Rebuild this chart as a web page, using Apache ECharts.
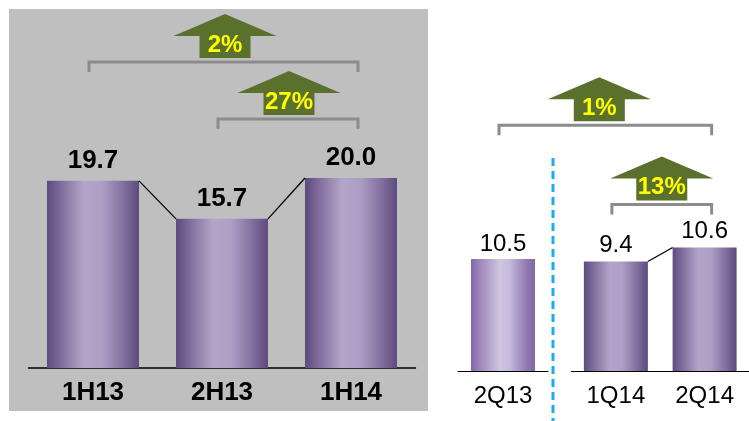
<!DOCTYPE html>
<html>
<head>
<meta charset="utf-8">
<script src="https://cdn.jsdelivr.net/npm/echarts@6/dist/echarts.min.js"></script>
<style>
html,body{margin:0;padding:0;background:#fff;}
#c{width:749px;height:421px;}
</style>
</head>
<body>
<div id="c"></div>
<script>
// ---- data ----
const halfCategories = ['1H13', '2H13', '1H14'];
const halfValues = [19.7, 15.7, 20.0];
const prevQCategories = ['2Q13'];
const prevQValues = [10.5];
const quarterCategories = ['1Q14', '2Q14'];
const quarterValues = [9.4, 10.6];
// growth annotations on the half-year chart: [from, to, bracket level (value units), label]
const halfChanges = [[0, 2, 32.2, '2%'], [1, 2, 26.2, '27%']];
// growth annotations on the quarterly chart
const quarterChangeLabels = ['1%', '13%'];
const quarterChangeLevels = [21.1, 14.3];

const FONT = 'Liberation Sans, Arial, sans-serif';
const mainGrad = new echarts.graphic.LinearGradient(0, 0, 1, 0, [
  {offset: 0, color: '#5d4a7e'}, {offset: 0.13, color: '#7b6898'},
  {offset: 0.4, color: '#b3a4c9'}, {offset: 0.6, color: '#ae9ec5'},
  {offset: 0.87, color: '#7a6797'}, {offset: 1, color: '#5d4a7e'}
]);
const lightGrad = new echarts.graphic.LinearGradient(0, 0, 1, 0, [
  {offset: 0, color: '#8167a6'}, {offset: 0.15, color: '#9f89bd'},
  {offset: 0.45, color: '#cfc6df'}, {offset: 0.6, color: '#c6badb'},
  {offset: 0.87, color: '#9178b2'}, {offset: 1, color: '#8167a6'}
]);

const chart = echarts.init(document.getElementById('c'), null, {renderer: 'canvas'});

const catAxis = (grid, data, bold, lw) => ({
  type: 'category', gridIndex: grid, data: data,
  axisTick: {show: false},
  axisLine: {show: true, lineStyle: {color: '#000', width: lw}},
  axisLabel: {
    margin: bold ? 12 : 13,
    color: '#000',
    fontFamily: FONT,
    fontSize: bold ? 26 : 24,
    fontWeight: bold ? 'bold' : 'normal'
  }
});
const valAxis = (grid, max) => ({type: 'value', gridIndex: grid, min: 0, max: max, show: false});

chart.setOption({
  animation: false,
  backgroundColor: '#fff',
  grid: [
    {left: 28.5, width: 387, top: 7, height: 361},
    {left: 458, width: 90, top: 51, height: 320},
    {left: 571.5, width: 181, top: 21.5, height: 349.5}
  ],
  xAxis: [
    catAxis(0, halfCategories, true, 1.5),
    catAxis(1, prevQCategories, false, 1.2),
    catAxis(2, quarterCategories, false, 1.2)
  ],
  yAxis: [valAxis(0, 38), valAxis(1, 30), valAxis(2, 30)],
  series: [
    {
      type: 'bar', xAxisIndex: 0, yAxisIndex: 0, data: halfValues, barWidth: 92,
      itemStyle: {color: mainGrad},
      label: {show: true, position: 'top', distance: 7, color: '#000', fontFamily: FONT,
        fontSize: 26, fontWeight: 'bold', formatter: p => p.value.toFixed(1)}
    },
    {
      type: 'bar', xAxisIndex: 1, yAxisIndex: 1, data: prevQValues, barWidth: 64,
      itemStyle: {color: lightGrad},
      label: {show: true, position: 'top', distance: 3, color: '#000', fontFamily: FONT,
        fontSize: 24, formatter: p => p.value.toFixed(1)}
    },
    {
      type: 'bar', xAxisIndex: 2, yAxisIndex: 2, data: quarterValues, barWidth: 64,
      itemStyle: {color: mainGrad},
      label: {show: true, position: 'top', distance: 4, color: '#000', fontFamily: FONT,
        fontSize: 24, formatter: p => p.value.toFixed(1)}
    }
  ]
});

// ---- annotations computed through the chart's own scales ----
const px = (g, cat, val) => chart.convertToPixel({xAxisIndex: g, yAxisIndex: g}, [cat, val]);
const graphics = [];

// grey panel behind left chart
graphics.push({type: 'rect', z: -10, silent: true, shape: {x: 9, y: 9, width: 419, height: 402}, style: {fill: '#bfbfbf'}});
// dashed divider
graphics.push({type: 'line', z: 5, shape: {x1: 553, y1: 158, x2: 553, y2: 421},
  style: {stroke: '#17b0ec', lineWidth: 3, lineDash: [8, 5]}});

function connector(g, i, vals, cats, bw) {
  const a = px(g, cats[i], vals[i]);
  const b = px(g, cats[i + 1], vals[i + 1]);
  graphics.push({type: 'line', z: 5, shape: {x1: a[0] + bw / 2, y1: a[1], x2: b[0] - bw / 2, y2: b[1]},
    style: {stroke: '#000', lineWidth: 1.3}});
}
for (let i = 0; i < halfValues.length - 1; i++) connector(0, i, halfValues, halfCategories, 92);
connector(2, 0, quarterValues, quarterCategories, 64);

function growth(x1c, x2c, by, label, shift) {
  const x1 = x1c - 4, x2 = x2c + 7, cx = (x1 + x2) / 2 + (shift || 0);
  graphics.push({type: 'polyline', z: 5, shape: {points: [[x1, by + 10], [x1, by], [x2, by], [x2, by + 10]]},
    style: {stroke: '#8c8c8c', lineWidth: 3, fill: null}});
  graphics.push({type: 'polygon', z: 5, shape: {points: [
      [cx - 25.5, by - 4], [cx - 25.5, by - 26], [cx - 51.5, by - 26], [cx, by - 48],
      [cx + 51.5, by - 26], [cx + 25.5, by - 26], [cx + 25.5, by - 4]]},
    style: {fill: '#5a702d'}});
  graphics.push({type: 'text', z: 6, style: {text: label, x: cx, y: by - 17, fill: '#ffff00',
    font: 'bold 24px ' + FONT, align: 'center', verticalAlign: 'middle'}});
}
halfChanges.forEach((c, k) => {
  const a = px(0, halfCategories[c[0]], c[2]);
  const b = px(0, halfCategories[c[1]], c[2]);
  growth(a[0], b[0], a[1], c[3], k === 0 ? 1.5 : 1);
});
// 1%: 2Q13 -> 2Q14 ; 13%: 1Q14 -> 2Q14  (levels in quarter-grid units)
{
  const a = px(1, prevQCategories[0], 0);
  const b = px(2, quarterCategories[1], quarterChangeLevels[0]);
  growth(a[0], b[0], b[1], quarterChangeLabels[0], -6);
  const c = px(2, quarterCategories[0], quarterChangeLevels[1]);
  const d = px(2, quarterCategories[1], quarterChangeLevels[1]);
  growth(c[0], d[0], c[1], quarterChangeLabels[1], 0);
}

chart.setOption({graphic: graphics});
</script>
</body>
</html>
